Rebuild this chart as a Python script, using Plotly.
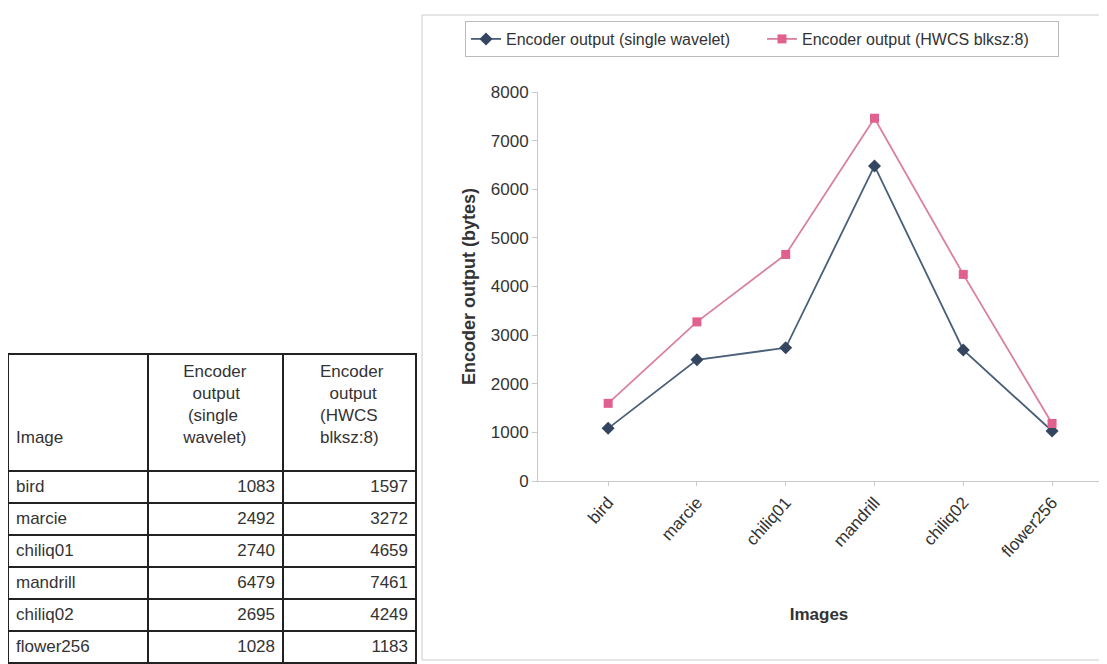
import plotly.graph_objects as go

images = ["bird", "marcie", "chiliq01", "mandrill", "chiliq02", "flower256"]
single_wavelet = [1083, 2492, 2740, 6479, 2695, 1028]
hwcs_blksz8 = [1597, 3272, 4659, 7461, 4249, 1183]

series1_name = "Encoder output (single wavelet)"
series2_name = "Encoder output (HWCS blksz:8)"
NB = "\u00a0"
header_labels = [
    NB + "<br>" + NB + "<br>" + NB + "<br>Image",
    "Encoder<br>" + NB * 2 + "output<br>" + NB + "(single<br>wavelet)",
    NB + "Encoder<br>" + NB * 3 + "output<br>" + NB + "(HWCS<br>" + NB + "blksz:8)",
]

# the page body adds an 8px margin; size the figure so it fills the window
OFF = 8
W, H = 1107 - OFF, 664 - OFF


def px(x):
    return (x - OFF) / W


def py(y):
    return 1 - (y - OFF) / H


FONT = "Liberation Sans, Arial, sans-serif"
TXT = "#333333"
C1 = "#34465f"
C2 = "#e0608f"
C2L = "#d9809f"

fig = go.Figure()

fig.add_trace(go.Table(
    domain=dict(x=[px(8), px(416)], y=[0, py(354)]),
    columnwidth=[140, 135, 133],
    header=dict(values=header_labels,
                align=["left", "center", "center"],
                font=dict(family=FONT, size=17, color=TXT),
                fill_color="white",
                line=dict(color="#222222", width=2),
                height=117),
    cells=dict(values=[images, single_wavelet, hwcs_blksz8],
               align=["left", "right", "right"],
               font=dict(family=FONT, size=17, color=TXT),
               fill_color="white",
               line=dict(color="#222222", width=2),
               height=32),
))

fig.add_trace(go.Scatter(
    x=images, y=single_wavelet, name=series1_name, mode="lines+markers",
    line=dict(color="#4a5f78", width=1.8),
    marker=dict(symbol="diamond", size=10, color=C1),
))
fig.add_trace(go.Scatter(
    x=images, y=hwcs_blksz8, name=series2_name, mode="lines+markers",
    line=dict(color=C2L, width=1.8),
    marker=dict(symbol="square", size=9, color=C2),
))

fig.update_layout(
    width=W, height=H,
    margin=dict(l=0, r=0, t=0, b=0, autoexpand=False),
    paper_bgcolor="white", plot_bgcolor="white",
    font=dict(family=FONT, color=TXT),
    showlegend=True,
    legend=dict(orientation="h", x=px(465), y=py(21),
                xanchor="left", yanchor="top",
                bordercolor="#bbbbbb", borderwidth=1,
                font=dict(size=16, color=TXT),
                entrywidth=251, entrywidthmode="pixels",
                tracegroupgap=0),
    xaxis=dict(domain=[px(538), px(1100)], range=[-0.79, 5.54],
               automargin=False,
               showgrid=False, showline=True, linecolor="#c8c8c8",
               ticks="outside", ticklen=4, tickcolor="#c8c8c8",
               tickangle=-48, tickfont=dict(size=17, color=TXT),
               title=dict(text="<b>Images</b>", font=dict(size=17, color=TXT),
                          standoff=48)),
    yaxis=dict(domain=[py(481), py(92)], range=[0, 8000],
               automargin=False,
               dtick=1000, showgrid=False, showline=True, linecolor="#c8c8c8",
               ticks="outside", ticklen=5, tickcolor="#c8c8c8",
               tickfont=dict(size=17, color=TXT),
               title=dict(text="<b>Encoder output (bytes)</b>",
                          font=dict(size=18, color=TXT), standoff=10)),
    shapes=[dict(type="rect", xref="paper", yref="paper",
                 x0=px(422), x1=px(1106), y0=py(660), y1=py(15),
                 line=dict(color="#cccccc", width=1))],
)

fig.write_html("out.html")
